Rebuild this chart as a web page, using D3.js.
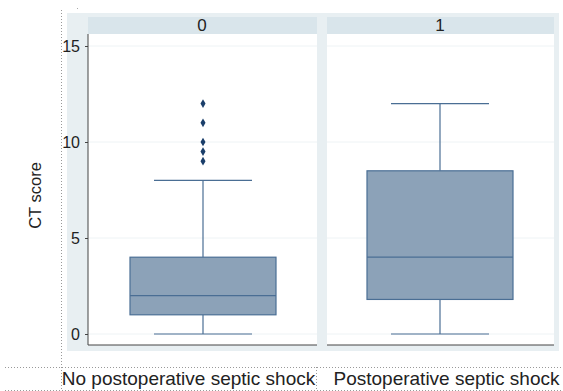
<!DOCTYPE html>
<html lang="en">
<head>
<meta charset="UTF-8">
<title>CT score</title>
<script src="https://d3js.org/d3.v7.min.js"></script>
<style>
body { margin: 0; background: #fff; }
text { font-family: Helvetica, Arial, "Liberation Sans", sans-serif; fill: #222; }
</style>
</head>
<body>
<div id="chart"></div>
<script>
const width = 563
const height = 391

// data
const groups = ["0", "1"]
const groupLabels = ["No postoperative septic shock", "Postoperative septic shock"]
const lowWhisker = [0, 0]
const q1 = [1, 1.8]
const median = [2, 4]
const q3 = [4, 8.5]
const highWhisker = [8, 12]
const outliers = [[9, 9.5, 10, 11, 12], []]
const yTicks = [0, 5, 10, 15]

const panels = [{x0: 88, x1: 317}, {x0: 327, x1: 554}]
const plotTop = 34, plotBottom = 345

const y = d3.scaleLinear().domain([0, 15]).range([334, 46])

const svg = d3.select("#chart").append("svg")
    .attr("width", width)
    .attr("height", height)

// outer background
svg.append("rect")
    .attr("x", 67).attr("y", 13)
    .attr("width", 492).attr("height", 338)
    .attr("fill", "#e8eff2")

// dotted frame lines
const dotted = (x1, y1, x2, y2) => svg.append("line")
    .attr("x1", x1).attr("y1", y1).attr("x2", x2).attr("y2", y2)
    .attr("stroke", "#999").attr("stroke-width", 1)
    .attr("stroke-dasharray", "1,2")
dotted(61.5, 10, 61.5, 391)
dotted(5, 367.5, 563, 367.5)
dotted(5, 390.5, 563, 390.5)
dotted(316.5, 367, 316.5, 391)

panels.forEach((p, i) => {
    const g = svg.append("g")
    // strip
    g.append("rect")
        .attr("x", p.x0).attr("y", 17)
        .attr("width", p.x1 - p.x0).attr("height", plotTop - 17)
        .attr("fill", "#d9e5eb")
    g.append("text")
        .attr("x", (p.x0 + p.x1) / 2 - 0.5).attr("y", 31)
        .attr("text-anchor", "middle")
        .attr("font-size", 17)
        .text(groups[i])
    // plot area
    g.append("rect")
        .attr("x", p.x0).attr("y", plotTop)
        .attr("width", p.x1 - p.x0).attr("height", plotBottom - plotTop)
        .attr("fill", "#fff")
    // grid
    g.selectAll(".grid").data(yTicks).enter().append("line")
        .attr("x1", p.x0).attr("x2", p.x1)
        .attr("y1", d => y(d)).attr("y2", d => y(d))
        .attr("stroke", "#eef3f5").attr("stroke-width", 1)
    // x axis line
    g.append("line")
        .attr("x1", p.x0).attr("x2", p.x1)
        .attr("y1", plotBottom).attr("y2", plotBottom)
        .attr("stroke", "#444").attr("stroke-width", 1)

    const cx = i === 0 ? 203 : 440
    const bw = 146, cw = 98
    const col = "#4a6e94"
    // whiskers
    g.append("line")
        .attr("x1", cx).attr("x2", cx)
        .attr("y1", y(lowWhisker[i])).attr("y2", y(q1[i]))
        .attr("stroke", col).attr("stroke-width", 1.2)
    g.append("line")
        .attr("x1", cx).attr("x2", cx)
        .attr("y1", y(q3[i])).attr("y2", y(highWhisker[i]))
        .attr("stroke", col).attr("stroke-width", 1.2)
    ;[lowWhisker[i], highWhisker[i]].forEach(v => {
        g.append("line")
            .attr("x1", cx - cw / 2).attr("x2", cx + cw / 2)
            .attr("y1", y(v)).attr("y2", y(v))
            .attr("stroke", col).attr("stroke-width", 1.2)
    })
    // box
    g.append("rect")
        .attr("x", cx - bw / 2).attr("y", y(q3[i]))
        .attr("width", bw).attr("height", y(q1[i]) - y(q3[i]))
        .attr("fill", "#8ca2b8").attr("stroke", col).attr("stroke-width", 1.2)
    g.append("line")
        .attr("x1", cx - bw / 2).attr("x2", cx + bw / 2)
        .attr("y1", y(median[i])).attr("y2", y(median[i]))
        .attr("stroke", col).attr("stroke-width", 1.2)
    // outliers
    g.selectAll(".out").data(outliers[i]).enter().append("path")
        .attr("d", d3.symbol(d3.symbolDiamond, 22))
        .attr("transform", d => `translate(${cx},${y(d)})`)
        .attr("fill", "#1a3e6a")

    // bottom label
    svg.append("text")
        .attr("x", i === 0 ? 188.5 : 446.5).attr("y", 385)
        .attr("text-anchor", "middle")
        .attr("font-size", 19)
        .text(groupLabels[i])
})

// y axis
const yAxis = svg.append("g")
    .attr("transform", "translate(88,0)")
    .call(d3.axisLeft(y).tickValues(yTicks).tickSize(3).tickPadding(5))
yAxis.select(".domain").attr("stroke", "#444").attr("d", `M0,${plotTop}V${plotBottom}`)
yAxis.selectAll(".tick line").attr("stroke", "#444")
yAxis.selectAll(".tick text")
    .attr("font-size", 16)
    .attr("fill", "#222")
    .style("font-family", "Helvetica, Arial, 'Liberation Sans', sans-serif")

svg.append("text")
    .attr("transform", "translate(41,195.5) rotate(-90)")
    .attr("text-anchor", "middle")
    .attr("font-size", 16.5)
    .text("CT score")

svg.append("rect").attr("x", 77).attr("y", 8).attr("width", 1).attr("height", 1).attr("fill", "#aaa")
</script>
</body>
</html>
